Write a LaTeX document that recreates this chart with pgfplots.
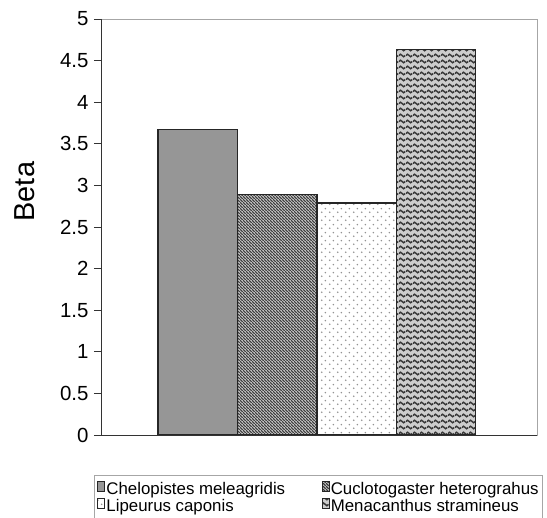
\documentclass[border=0pt]{standalone}
\usepackage{pgfplots}
\pgfplotsset{compat=1.18}
\usepackage{fontspec}
\setmainfont{Liberation Sans}
\usetikzlibrary{patterns}

\pgfdeclarepatternformonly{wave}{\pgfpoint{0bp}{0bp}}{\pgfpoint{7bp}{5.5bp}}{\pgfpoint{7bp}{5.5bp}}{%
  \pgfsetlinewidth{1.6bp}%
  \pgfpathmoveto{\pgfpoint{0bp}{2.75bp}}%
  \pgfpathcurveto{\pgfpoint{1.2bp}{4.6bp}}{\pgfpoint{2.3bp}{4.6bp}}{\pgfpoint{3.5bp}{2.75bp}}%
  \pgfpathcurveto{\pgfpoint{4.7bp}{0.9bp}}{\pgfpoint{5.8bp}{0.9bp}}{\pgfpoint{7bp}{2.75bp}}%
  \pgfusepath{stroke}}

\pgfdeclarepatternformonly{sparsedots}{\pgfpoint{0bp}{0bp}}{\pgfpoint{8bp}{8bp}}{\pgfpoint{8bp}{8bp}}{%
  \pgfpathcircle{\pgfpoint{2bp}{2bp}}{0.95bp}%
  \pgfpathcircle{\pgfpoint{6bp}{6bp}}{0.95bp}%
  \pgfusepath{fill}}

\pgfdeclarepatternformonly{finestripes}{\pgfpoint{0bp}{0bp}}{\pgfpoint{3.3bp}{3.3bp}}{\pgfpoint{3.3bp}{3.3bp}}{%
  \pgfsetlinewidth{1.2bp}%
  \pgfpathmoveto{\pgfpoint{-0.5bp}{3.8bp}}%
  \pgfpathlineto{\pgfpoint{3.8bp}{-0.5bp}}%
  \pgfusepath{stroke}}

\begin{document}
\begin{tikzpicture}
\begin{axis}[
  name=ax,
  scale only axis, width=436bp, height=416bp,
  ymin=0, ymax=5, xmin=-1.218, xmax=4.272,
  ytick={0,0.5,1,1.5,2,2.5,3,3.5,4,4.5,5},
  xtick=\empty,
  ytick pos=left,
  tick align=outside,
  major tick length=7bp,
  tick style={black!80, line width=0.8bp},
  axis line style={draw=gray!70, line width=0.8bp},
  /pgf/number format/assume math mode=true,
  yticklabel style={font=\fontsize{20.5}{20.5}\selectfont, xshift=-2bp},
  ylabel={Beta},
  ylabel style={font=\fontsize{29}{29}\selectfont, at={(axis description cs:-0.175,0.585)}, anchor=center, rotate=0},
  ybar, bar width=1, bar shift=0pt,
  legend columns=2,
  legend style={at={(axis description cs:-0.016,-0.096)}, anchor=north west,
    draw=gray!70, fill=white, line width=0.7bp,
    font=\fontsize{16.9}{15}\selectfont,
    cells={anchor=west},
    nodes={inner sep=0.5bp, text height=11.5bp, text depth=3.5bp},
    inner xsep=3bp, inner ysep=5.5bp,
    row sep=0pt,
    /tikz/every even column/.append style={column sep=36bp},
    /tikz/every odd column/.append style={column sep=1bp}},
  legend image code/.code={\draw[#1, line width=0.6bp] (0bp,-1bp) rectangle (7bp,9bp);},
]
\addplot[draw=black!85, line width=1.3bp, fill={rgb,255:red,150;green,150;blue,150}] coordinates {(0,3.67)};
\addlegendentry{Chelopistes meleagridis}
\addplot[draw=black!85, line width=1.3bp, fill={rgb,255:red,185;green,185;blue,185}, postaction={pattern=finestripes, pattern color=black!80}] coordinates {(1,2.89)};
\addlegendentry{Cuclotogaster heterograhus}
\addplot[draw=black!85, line width=1.3bp, fill=white, postaction={pattern=sparsedots, pattern color=gray!85}] coordinates {(2,2.79)};
\addlegendentry{Lipeurus caponis}
\addplot[draw=black!85, line width=1.3bp, fill={rgb,255:red,205;green,205;blue,205}, postaction={pattern=wave, pattern color=black!78}] coordinates {(3,4.63)};
\addlegendentry{Menacanthus stramineus}
\end{axis}
\draw[black!80, line width=0.9bp] (ax.north west) -- (ax.south west) -- (ax.south east);
\pgfresetboundingbox
\path[use as bounding box] ([shift={(-101bp,-83bp)}]ax.south west) rectangle ([shift={(446bp,435bp)}]ax.south west);
\end{tikzpicture}
\end{document}
